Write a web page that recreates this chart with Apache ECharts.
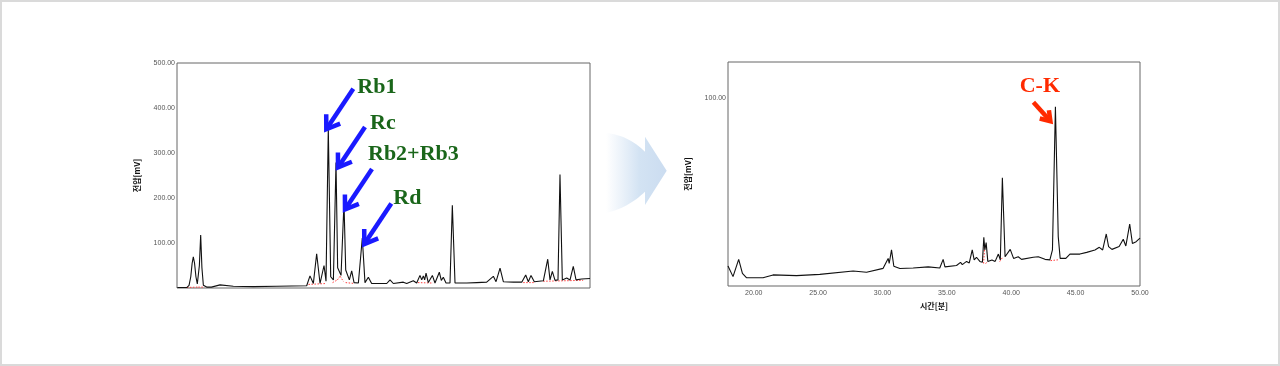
<!DOCTYPE html>
<html><head><meta charset="utf-8">
<script src="https://cdn.jsdelivr.net/npm/echarts@6/dist/echarts.min.js"></script>
<style>html,body{margin:0;padding:0;background:#fff}#c{width:1280px;height:366px}</style>
</head><body><div id="c"></div>
<script>
// ---- Left chromatogram (retention time [min], voltage [mV]) ----
const leftTimes = [0.05,1.41,1.75,2.0,2.2,2.37,2.55,2.75,2.95,3.1,3.25,3.44,3.62,3.83,4.31,5.0,6.25,8.18,11.09,14.48,18.84,19.32,19.81,20.29,20.78,21.36,21.65,21.98,22.33,22.72,23.1,23.34,23.54,23.83,24.26,24.51,24.8,25.04,25.38,25.72,26.35,26.92,27.31,27.8,28.28,30.47,30.95,31.43,32.88,33.37,34.33,34.82,35.3,35.55,35.79,35.98,36.18,36.51,37.1,37.48,38.11,38.4,38.69,39.08,39.66,40.0,40.39,42.09,43.54,44.99,45.96,46.35,46.93,47.41,48.86,50.08,50.66,51.04,51.43,51.91,53.22,53.86,54.19,54.53,54.92,55.35,55.64,55.98,56.62,57.1,57.57,57.97,58.79,60];
const leftValues = [1,1,6,25,55,69,55,25,9,8,50,118,45,6,2,2,7,4,3,4,5,27,10,76,10,50,15,355,25,18,279,45,48,28,190,40,44,18,38,12,11,111,12,24,10,10,18,10,13,10,16,11,28,18,27,18,33,12,28,11,35,17,24,11,11,184,11,11,12,13,26,14,44,14,13,13,29,14,28,14,16,64,18,37,17,18,252,18,22,18,48,18,20,21];
const leftYTicks = [100,200,300,400,500];
// integration baselines (red dotted) as [startTime, startValue, endTime, endValue]
const leftBaselines = [[1.0,1,3.0,2],[3.1,2,4.0,2],[19.1,8,21.7,10],[22.6,12,23.3,18],[23.3,18,23.7,26],[23.7,26,24.2,14],[24.5,12,25.8,10],[35.0,12,37.2,11],[50.3,12,52.0,12],[53.2,15,59.0,17]];

// ---- Right chromatogram ----
const rightTimes = [18.0,18.39,18.83,19.12,19.43,20.72,21.5,23.32,25.13,27.72,28.76,30.05,30.44,30.52,30.7,30.88,31.35,32.38,33.55,34.45,34.71,34.85,35.75,36.06,36.2,36.53,36.74,36.97,37.12,37.3,37.56,37.76,37.87,37.95,38.05,38.18,38.5,38.75,39.0,39.15,39.31,39.52,39.64,39.92,40.18,40.54,40.8,41.71,42.1,42.62,43.0,43.2,43.43,43.65,43.8,44.24,44.56,45.33,45.86,46.5,46.84,47.1,47.38,47.56,47.82,48.38,48.7,48.9,49.2,49.41,49.7,50.0];
const rightValues = [10.7,5,14.2,6.7,4.4,4.4,5.9,5.5,6.2,8.0,7.3,9.4,14.7,12.0,19.2,10.5,9.3,9.6,10.2,9.6,14.2,10.2,10.9,12.6,11.4,13.1,12.3,19.2,13.9,15.3,13.1,12.6,25.9,19.2,23.1,13.1,13.9,13.1,17,13.9,57.7,15.6,14.7,19.5,14.7,15.6,14.2,15.3,15.6,14.2,13.9,19.2,95.5,26.3,14.7,14.7,17.0,17.0,17.9,19.2,20.6,19.2,27.7,21,19.5,21,24.9,21.3,33,22.7,23.6,25.5];
const rightXTicks = [20,25,30,35,40,45,50];
const rightYTicks = [100];
const rightBaselines = [[37.85,12,37.95,22],[38.0,12,38.2,13],[39.1,13,39.3,15],[43.05,13.5,43.7,14]];

// ---- Annotations ----
const leftPeakNames = ['Rb1','Rc','Rb2+Rb3','Rd'];
const leftPeakTimes = [21.98,23.1,24.26,26.92];
const leftPeakValues = [355,279,190,111];
const rightPeakNames = ['C-K'];
const rightPeakTimes = [43.43];
const rightPeakValues = [95.5];

const zip = (a,b)=>a.map((x,i)=>[x,b[i]]);
const fmt2 = v => Number(v).toFixed(2);
const chart = echarts.init(document.getElementById('c'));

function baselineSeries(list, idx){
  return list.map(s=>({type:'line', xAxisIndex:idx, yAxisIndex:idx, data:[[s[0],s[1]],[s[2],s[3]]],
    symbol:'none', silent:true, lineStyle:{color:'#ff4040', width:1, type:[1.5,1.5]}, z:1, animation:false}));
}
const axisNameStyle = {fontFamily:'Noto Sans CJK KR', fontWeight:'bold', fontSize:8, color:'#111'};
const tickLabel = {fontFamily:'Liberation Sans', fontSize:7, color:'#555'};

const option = {
  animation:false,
  backgroundColor:'#fff',
  grid:[
    {left:177, top:63, width:413, height:225, show:true, borderColor:'#666', borderWidth:1, backgroundColor:'transparent'},
    {left:728, top:62, width:412, height:224, show:true, borderColor:'#666', borderWidth:1, backgroundColor:'transparent'}
  ],
  xAxis:[
    {type:'value', gridIndex:0, min:0, max:60, axisLine:{show:false}, axisTick:{show:false}, axisLabel:{show:false}, splitLine:{show:false}},
    {type:'value', gridIndex:1, min:18, max:50, axisLine:{show:false}, axisTick:{show:false}, splitLine:{show:false},
     axisLabel:Object.assign({customValues:rightXTicks, formatter:fmt2, margin:4}, tickLabel),
     name:'시간[분]', nameLocation:'middle', nameGap:11, nameTextStyle:axisNameStyle}
  ],
  yAxis:[
    {type:'value', gridIndex:0, min:0, max:500, interval:100, axisLine:{show:false}, axisTick:{show:false}, splitLine:{show:false},
     axisLabel:Object.assign({customValues:leftYTicks, formatter:fmt2, margin:2}, tickLabel),
     name:'전압[mV]', nameLocation:'middle', nameRotate:90, nameGap:36, nameTextStyle:axisNameStyle},
    {type:'value', gridIndex:1, min:0, max:119.3, axisLine:{show:false}, axisTick:{show:false}, splitLine:{show:false},
     axisLabel:Object.assign({customValues:rightYTicks, formatter:fmt2, margin:2}, tickLabel),
     name:'전압[mV]', nameLocation:'middle', nameRotate:90, nameGap:36, nameTextStyle:axisNameStyle}
  ],
  series:[
    ...baselineSeries(leftBaselines,0),
    ...baselineSeries(rightBaselines,1),
    {type:'line', xAxisIndex:0, yAxisIndex:0, data:zip(leftTimes,leftValues), symbol:'none', lineStyle:{color:'#111', width:1.1}, z:3},
    {type:'line', xAxisIndex:1, yAxisIndex:1, data:zip(rightTimes,rightValues), symbol:'none', lineStyle:{color:'#111', width:1.1}, z:3}
  ]
};
chart.setOption(option);

function arrowEls(tip, tail, color, head, width){
  const dx=tail[0]-tip[0], dy=tail[1]-tip[1], L=Math.hypot(dx,dy), ux=dx/L, uy=dy/L;
  const a=34*Math.PI/180, c=Math.cos(a), s=Math.sin(a);
  const w1=[ux*c-uy*s, ux*s+uy*c], w2=[ux*c+uy*s, -ux*s+uy*c];
  return [
    {type:'line', shape:{x1:tail[0],y1:tail[1],x2:tip[0]+ux*1.5,y2:tip[1]+uy*1.5}, style:{stroke:color, lineWidth:width}, z:10},
    {type:'polyline', shape:{points:[[tip[0]+w1[0]*head,tip[1]+w1[1]*head],tip,[tip[0]+w2[0]*head,tip[1]+w2[1]*head]]},
     style:{stroke:color, fill:null, lineWidth:width, lineJoin:'miter', lineCap:'butt'}, z:10}
  ];
}
function quad(p0,c,p1,n){
  const pts=[];
  for(let k=0;k<=n;k++){const t=k/n, m=1-t;
    pts.push([m*m*p0[0]+2*m*t*c[0]+t*t*p1[0], m*m*p0[1]+2*m*t*c[1]+t*t*p1[1]]);}
  return pts;
}
// big light-blue transition arrow between the two panels
const bigArrowPts = [].concat(
  quad([606,133],[628,135],[645,151.7],16),
  [[645,136.7],[666.7,170.7],[645,205],[645,191.7]],
  quad([645,191.7],[628,208],[606,213],16)
);

const graphics = [
  {type:'rect', shape:{x:1,y:1,width:1278,height:364}, style:{fill:null, stroke:'#dadada', lineWidth:2}, z:0, silent:true},
  {type:'polygon', shape:{points:bigArrowPts},
   style:{fill:{type:'linear',x:0,y:0,x2:1,y2:0,colorStops:[{offset:0,color:'rgba(214,228,244,0)'},{offset:0.55,color:'#d3e3f3'},{offset:1,color:'#cbdcf0'}]}}, z:0, silent:true}
];
// left annotations
const leftTipOff = [[-2,1],[2,5],[1,7],[2,6]];
const leftTextOff = [[4,-1.5],[5,-4],[-4,-15],[2,-5]];
leftPeakNames.forEach((n,i)=>{
  const p = chart.convertToPixel({xAxisIndex:0,yAxisIndex:0},[leftPeakTimes[i],leftPeakValues[i]]);
  const tip=[p[0]+leftTipOff[i][0], p[1]+leftTipOff[i][1]];
  const tail=[tip[0]+27, tip[1]-40.5];
  graphics.push(...arrowEls(tip, tail, '#1a1aff', 15, 4.5));
  graphics.push({type:'text', x:tail[0]+leftTextOff[i][0], y:tail[1]+leftTextOff[i][1],
    style:{text:n, fill:'#1a661a', font:'bold 22px "Liberation Serif"', textVerticalAlign:'middle', textAlign:'left'}, z:11});
});
rightPeakNames.forEach((n,i)=>{
  const p = chart.convertToPixel({xAxisIndex:1,yAxisIndex:1},[rightPeakTimes[i],rightPeakValues[i]]);
  const tip=[p[0]-5, p[1]+14.5];
  const tail=[tip[0]-17, tip[1]-19];
  graphics.push(...arrowEls(tip, tail, '#ff2a00', 11, 4.5));
  graphics.push({type:'text', x:tail[0]-13.7, y:tail[1]-15.5,
    style:{text:n, fill:'#ff2a00', font:'bold 22px "Liberation Serif"', textVerticalAlign:'middle', textAlign:'left'}, z:11});
});
chart.setOption({graphic:graphics});
</script>
</body></html>
